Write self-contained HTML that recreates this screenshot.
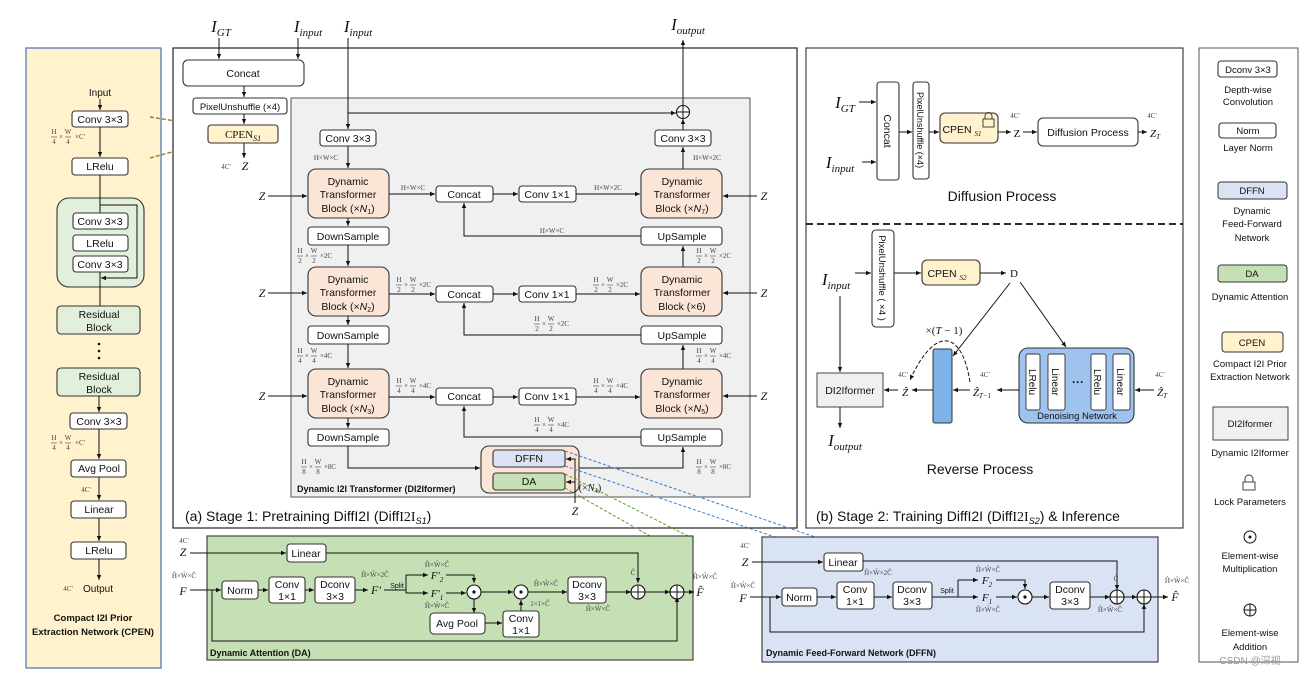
<!DOCTYPE html>
<html><head><meta charset="utf-8">
<style>
html,body{margin:0;padding:0;background:#fff}
svg{display:block}
text{font-family:"Liberation Sans",sans-serif;fill:#111}
.t{font-size:10.5px;text-anchor:middle}
.s{font-size:9.5px;text-anchor:middle}
.m{font-family:"Liberation Serif",serif;font-style:italic;text-anchor:middle}
.d{font-family:"Liberation Serif",serif;font-size:7px;fill:#444;text-anchor:middle}
.b{fill:#fff;stroke:#333;stroke-width:1.1}
.l{stroke:#111;stroke-width:1;fill:none}
.fr text{font-family:"Liberation Serif",serif;font-size:7px;fill:#444;text-anchor:middle}
.fr line{stroke:#444;stroke-width:.6}
</style></head><body>
<svg width="1305" height="676" viewBox="0 0 1305 676" xmlns="http://www.w3.org/2000/svg">
<defs>
<marker id="a" markerWidth="6" markerHeight="6" refX="5" refY="3" orient="auto" markerUnits="userSpaceOnUse"><path d="M0,0.8 L5,3 L0,5.2z" fill="#111"/></marker>
</defs>

<!-- ================= CPEN panel ================= -->
<rect x="26" y="48" width="135" height="620" fill="#fff2cc" stroke="#4a6fb5" stroke-width="1.2"/>
<text class="t" x="100" y="96" style="font-size:10px">Input</text>
<path class="l" d="M100,99V110" marker-end="url(#a)"/>
<rect class="b" x="72" y="111" width="56" height="16" rx="3"/><text class="t" x="100" y="123">Conv 3×3</text>
<g class="fr" transform="translate(52,137)"><text x="2" y="-3">H</text><line x1="-1" x2="5" y1="0" y2="0"/><text x="2" y="7">4</text><text x="9" y="2">×</text><text x="16" y="-3">W</text><line x1="13" x2="19"/><text x="16" y="7">4</text><text x="28" y="2">×C'</text></g>
<path class="l" d="M100,127V157" marker-end="url(#a)"/>
<rect class="b" x="72" y="158" width="56" height="17" rx="3"/><text class="t" x="100" y="170">LRelu</text>
<rect x="57" y="198" width="87" height="89" rx="12" fill="#e2efda" stroke="#333" stroke-width="1.1"/>
<path class="l" d="M100,175V213"/>
<path class="l" d="M100,205H137V278H101" marker-end="url(#a)"/>
<rect class="b" x="73" y="213" width="55" height="16" rx="3"/><text class="t" x="100" y="225">Conv 3×3</text>
<rect class="b" x="73" y="235" width="55" height="16" rx="3"/><text class="t" x="100" y="247">LRelu</text>
<rect class="b" x="73" y="256" width="55" height="16" rx="3"/><text class="t" x="100" y="268">Conv 3×3</text>
<path class="l" d="M100,272V306"/>
<rect x="57" y="306" width="83" height="28" rx="4" fill="#e2efda" stroke="#333" stroke-width="1.1"/>
<text class="t" x="99" y="318">Residual</text><text class="t" x="99" y="331">Block</text>
<circle cx="99" cy="344" r="1.3" fill="#111"/><circle cx="99" cy="351" r="1.3" fill="#111"/><circle cx="99" cy="358" r="1.3" fill="#111"/>
<rect x="57" y="368" width="83" height="28" rx="4" fill="#e2efda" stroke="#333" stroke-width="1.1"/>
<text class="t" x="99" y="380">Residual</text><text class="t" x="99" y="393">Block</text>
<path class="l" d="M99,396V412" marker-end="url(#a)"/>
<rect class="b" x="70" y="413" width="57" height="16" rx="3"/><text class="t" x="99" y="425">Conv 3×3</text>
<g class="fr" transform="translate(52,443)"><text x="2" y="-3">H</text><line x1="-1" x2="5" y1="0" y2="0"/><text x="2" y="7">4</text><text x="9" y="2">×</text><text x="16" y="-3">W</text><line x1="13" x2="19"/><text x="16" y="7">4</text><text x="28" y="2">×C'</text></g>
<path class="l" d="M99,429V459" marker-end="url(#a)"/>
<rect class="b" x="71" y="460" width="55" height="17" rx="3"/><text class="t" x="99" y="472">Avg Pool</text>
<text class="d" x="86" y="492">4C'</text>
<path class="l" d="M99,477V500" marker-end="url(#a)"/>
<rect class="b" x="71" y="501" width="55" height="17" rx="3"/><text class="t" x="99" y="513">Linear</text>
<path class="l" d="M99,518V541" marker-end="url(#a)"/>
<rect class="b" x="71" y="542" width="55" height="17" rx="3"/><text class="t" x="99" y="554">LRelu</text>
<path class="l" d="M99,559V580" marker-end="url(#a)"/>
<text class="d" x="68" y="591">4C'</text><text class="t" x="98" y="592" style="font-size:10px">Output</text>
<text x="93" y="621" style="font-size:9.5px;font-weight:bold;text-anchor:middle">Compact I2I Prior</text>
<text x="93" y="635" style="font-size:9.5px;font-weight:bold;text-anchor:middle">Extraction Network (CPEN)</text>

<!-- dashed connectors CPEN -->
<path d="M150,117L208,126" stroke="#9a7a20" stroke-width="1.4" stroke-dasharray="4,2" fill="none"/>
<path d="M150,158L208,142" stroke="#9a7a20" stroke-width="1.4" stroke-dasharray="4,2" fill="none"/>

<!-- ================= Stage 1 ================= -->
<rect x="173" y="48" width="624" height="480" fill="#fff" stroke="#222" stroke-width="1.2"/>
<text class="m" x="221" y="32" style="font-size:17px">I<tspan font-size="11" dy="4">GT</tspan></text>
<text class="m" x="308" y="32" style="font-size:17px">I<tspan font-size="11" dy="4">input</tspan></text>
<text class="m" x="358" y="32" style="font-size:17px">I<tspan font-size="11" dy="4">input</tspan></text>
<text class="m" x="688" y="30" style="font-size:17px">I<tspan font-size="11" dy="4">output</tspan></text>
<path class="l" d="M219,38V59" marker-end="url(#a)"/>
<path class="l" d="M298,38V59" marker-end="url(#a)"/>
<rect class="b" x="183" y="60" width="121" height="26" rx="5"/><text class="t" x="243" y="77">Concat</text>
<path class="l" d="M244,86V97" marker-end="url(#a)"/>
<rect class="b" x="193" y="98" width="94" height="16" rx="3"/><text class="t" x="240" y="110" style="font-size:9.5px">PixelUnshuffle (×4)</text>
<path class="l" d="M244,114V124" marker-end="url(#a)"/>
<rect x="208" y="125" width="70" height="18" rx="3" fill="#fff2cc" stroke="#333" stroke-width="1.1"/>
<text x="243" y="138" style="font-family:'Liberation Serif',serif;font-size:11px;text-anchor:middle">CPEN<tspan font-size="8" dy="3" font-style="italic">S1</tspan></text>
<path class="l" d="M244,143V158" marker-end="url(#a)"/>
<text class="d" x="226" y="169">4C'</text><text class="m" x="245" y="170" style="font-size:12px">Z</text>

<rect x="291" y="98" width="459" height="399" fill="#f0f0f0" stroke="#555" stroke-width="1"/>
<path class="l" d="M348,38V129" marker-end="url(#a)"/>
<path class="l" d="M348,113H676" marker-end="url(#a)"/>
<circle cx="683" cy="112" r="6.5" fill="#fff" stroke="#111" stroke-width="1.1"/><path class="l" d="M676.5,112H689.5M683,105.5V118.5"/>
<path class="l" d="M683,105.5V40" marker-end="url(#a)"/>
<rect class="b" x="320" y="130" width="56" height="16" rx="3"/><text class="t" x="348" y="142">Conv 3×3</text>
<rect class="b" x="655" y="130" width="56" height="16" rx="3"/><text class="t" x="683" y="142">Conv 3×3</text>
<path class="l" d="M683,130V119" marker-end="url(#a)"/>
<text class="d" x="326" y="160">H×W×C</text><text class="d" x="707" y="160">H×W×2C</text>
<path class="l" d="M348,146V168" marker-end="url(#a)"/>
<path class="l" d="M683,169V147" marker-end="url(#a)"/>

<!-- level 1 -->
<g>
<rect x="308" y="169" width="81" height="49" rx="8" fill="#fbe5d6" stroke="#333" stroke-width="1.1"/>
<text class="t" x="348" y="185">Dynamic</text><text class="t" x="348" y="198">Transformer</text><text class="t" x="348" y="212">Block (×<tspan font-style="italic">N</tspan><tspan font-size="7" dy="2">1</tspan><tspan dy="-2">)</tspan></text>
<rect x="641" y="169" width="81" height="49" rx="8" fill="#fbe5d6" stroke="#333" stroke-width="1.1"/>
<text class="t" x="682" y="185">Dynamic</text><text class="t" x="682" y="198">Transformer</text><text class="t" x="682" y="212">Block (×<tspan font-style="italic">N</tspan><tspan font-size="7" dy="2">7</tspan><tspan dy="-2">)</tspan></text>
<text class="m" x="262" y="200" style="font-size:12px">Z</text><path class="l" d="M268,196H307" marker-end="url(#a)"/>
<text class="m" x="764" y="200" style="font-size:12px">Z</text><path class="l" d="M757,196H723" marker-end="url(#a)"/>
<text class="d" x="413" y="190">H×W×C</text>
<path class="l" d="M389,194H435" marker-end="url(#a)"/>
<rect class="b" x="436" y="186" width="57" height="16" rx="3"/><text class="t" x="464" y="198">Concat</text>
<path class="l" d="M493,194H518" marker-end="url(#a)"/>
<rect class="b" x="519" y="186" width="57" height="16" rx="3"/><text class="t" x="547" y="198">Conv 1×1</text>
<text class="d" x="608" y="190">H×W×2C</text>
<path class="l" d="M576,194H640" marker-end="url(#a)"/>
<path class="l" d="M348,218V226" marker-end="url(#a)"/>
<rect class="b" x="308" y="227" width="81" height="18" rx="3"/><text class="t" x="348" y="240">DownSample</text>
<rect class="b" x="641" y="227" width="81" height="18" rx="3"/><text class="t" x="682" y="240">UpSample</text>
<path class="l" d="M641,236H464V203" marker-end="url(#a)"/>
<text class="d" x="552" y="233">H×W×C</text>
</g>
<!-- level 2 -->
<g>
<path class="l" d="M348,245V266" marker-end="url(#a)"/>
<path class="l" d="M683,267V246" marker-end="url(#a)"/>
<g class="fr" transform="translate(298,256)"><text x="2" y="-3">H</text><line x1="-1" x2="5" y1="0" y2="0"/><text x="2" y="7">2</text><text x="9" y="2">×</text><text x="16" y="-3">W</text><line x1="13" x2="19"/><text x="16" y="7">2</text><text x="28" y="2">×2C</text></g>
<g class="fr" transform="translate(697,256)"><text x="2" y="-3">H</text><line x1="-1" x2="5" y1="0" y2="0"/><text x="2" y="7">2</text><text x="9" y="2">×</text><text x="16" y="-3">W</text><line x1="13" x2="19"/><text x="16" y="7">2</text><text x="28" y="2">×2C</text></g>
<rect x="308" y="267" width="81" height="49" rx="8" fill="#fbe5d6" stroke="#333" stroke-width="1.1"/>
<text class="t" x="348" y="283">Dynamic</text><text class="t" x="348" y="296">Transformer</text><text class="t" x="348" y="310">Block (×<tspan font-style="italic">N</tspan><tspan font-size="7" dy="2">2</tspan><tspan dy="-2">)</tspan></text>
<rect x="641" y="267" width="81" height="49" rx="8" fill="#fbe5d6" stroke="#333" stroke-width="1.1"/>
<text class="t" x="682" y="283">Dynamic</text><text class="t" x="682" y="296">Transformer</text><text class="t" x="682" y="310">Block (×6)</text>
<text class="m" x="262" y="297" style="font-size:12px">Z</text><path class="l" d="M268,293H307" marker-end="url(#a)"/>
<text class="m" x="764" y="297" style="font-size:12px">Z</text><path class="l" d="M757,293H723" marker-end="url(#a)"/>
<g class="fr" transform="translate(397,285)"><text x="2" y="-3">H</text><line x1="-1" x2="5" y1="0" y2="0"/><text x="2" y="7">2</text><text x="9" y="2">×</text><text x="16" y="-3">W</text><line x1="13" x2="19"/><text x="16" y="7">2</text><text x="28" y="2">×2C</text></g>
<path class="l" d="M389,294H435" marker-end="url(#a)"/>
<rect class="b" x="436" y="286" width="57" height="16" rx="3"/><text class="t" x="464" y="298">Concat</text>
<path class="l" d="M493,294H518" marker-end="url(#a)"/>
<rect class="b" x="519" y="286" width="57" height="16" rx="3"/><text class="t" x="547" y="298">Conv 1×1</text>
<g class="fr" transform="translate(594,285)"><text x="2" y="-3">H</text><line x1="-1" x2="5" y1="0" y2="0"/><text x="2" y="7">2</text><text x="9" y="2">×</text><text x="16" y="-3">W</text><line x1="13" x2="19"/><text x="16" y="7">2</text><text x="28" y="2">×2C</text></g>
<path class="l" d="M576,294H640" marker-end="url(#a)"/>
<path class="l" d="M348,316V325" marker-end="url(#a)"/>
<rect class="b" x="308" y="326" width="81" height="18" rx="3"/><text class="t" x="348" y="339">DownSample</text>
<rect class="b" x="641" y="326" width="81" height="18" rx="3"/><text class="t" x="682" y="339">UpSample</text>
<path class="l" d="M641,335H464V303" marker-end="url(#a)"/>
<g class="fr" transform="translate(535,324)"><text x="2" y="-3">H</text><line x1="-1" x2="5" y1="0" y2="0"/><text x="2" y="7">2</text><text x="9" y="2">×</text><text x="16" y="-3">W</text><line x1="13" x2="19"/><text x="16" y="7">2</text><text x="28" y="2">×2C</text></g>
</g>
<!-- level 3 -->
<g>
<path class="l" d="M348,344V368" marker-end="url(#a)"/>
<path class="l" d="M683,369V345" marker-end="url(#a)"/>
<g class="fr" transform="translate(298,356)"><text x="2" y="-3">H</text><line x1="-1" x2="5" y1="0" y2="0"/><text x="2" y="7">4</text><text x="9" y="2">×</text><text x="16" y="-3">W</text><line x1="13" x2="19"/><text x="16" y="7">4</text><text x="28" y="2">×4C</text></g>
<g class="fr" transform="translate(697,356)"><text x="2" y="-3">H</text><line x1="-1" x2="5" y1="0" y2="0"/><text x="2" y="7">4</text><text x="9" y="2">×</text><text x="16" y="-3">W</text><line x1="13" x2="19"/><text x="16" y="7">4</text><text x="28" y="2">×4C</text></g>
<rect x="308" y="369" width="81" height="49" rx="8" fill="#fbe5d6" stroke="#333" stroke-width="1.1"/>
<text class="t" x="348" y="385">Dynamic</text><text class="t" x="348" y="398">Transformer</text><text class="t" x="348" y="412">Block (×<tspan font-style="italic">N</tspan><tspan font-size="7" dy="2">3</tspan><tspan dy="-2">)</tspan></text>
<rect x="641" y="369" width="81" height="49" rx="8" fill="#fbe5d6" stroke="#333" stroke-width="1.1"/>
<text class="t" x="682" y="385">Dynamic</text><text class="t" x="682" y="398">Transformer</text><text class="t" x="682" y="412">Block (×<tspan font-style="italic">N</tspan><tspan font-size="7" dy="2">5</tspan><tspan dy="-2">)</tspan></text>
<text class="m" x="262" y="400" style="font-size:12px">Z</text><path class="l" d="M268,396H307" marker-end="url(#a)"/>
<text class="m" x="764" y="400" style="font-size:12px">Z</text><path class="l" d="M757,396H723" marker-end="url(#a)"/>
<g class="fr" transform="translate(397,386)"><text x="2" y="-3">H</text><line x1="-1" x2="5" y1="0" y2="0"/><text x="2" y="7">4</text><text x="9" y="2">×</text><text x="16" y="-3">W</text><line x1="13" x2="19"/><text x="16" y="7">4</text><text x="28" y="2">×4C</text></g>
<path class="l" d="M389,397H435" marker-end="url(#a)"/>
<rect class="b" x="436" y="388" width="57" height="17" rx="3"/><text class="t" x="464" y="400">Concat</text>
<path class="l" d="M493,397H518" marker-end="url(#a)"/>
<rect class="b" x="519" y="388" width="57" height="17" rx="3"/><text class="t" x="547" y="400">Conv 1×1</text>
<g class="fr" transform="translate(594,386)"><text x="2" y="-3">H</text><line x1="-1" x2="5" y1="0" y2="0"/><text x="2" y="7">4</text><text x="9" y="2">×</text><text x="16" y="-3">W</text><line x1="13" x2="19"/><text x="16" y="7">4</text><text x="28" y="2">×4C</text></g>
<path class="l" d="M576,397H640" marker-end="url(#a)"/>
<path class="l" d="M348,418V428" marker-end="url(#a)"/>
<rect class="b" x="308" y="429" width="81" height="17" rx="3"/><text class="t" x="348" y="441">DownSample</text>
<rect class="b" x="641" y="429" width="81" height="17" rx="3"/><text class="t" x="682" y="441">UpSample</text>
<path class="l" d="M641,437H464V406" marker-end="url(#a)"/>
<g class="fr" transform="translate(535,425)"><text x="2" y="-3">H</text><line x1="-1" x2="5" y1="0" y2="0"/><text x="2" y="7">4</text><text x="9" y="2">×</text><text x="16" y="-3">W</text><line x1="13" x2="19"/><text x="16" y="7">4</text><text x="28" y="2">×4C</text></g>
</g>
<!-- bottom -->
<g class="fr" transform="translate(302,467)"><text x="2" y="-3">H</text><line x1="-1" x2="5" y1="0" y2="0"/><text x="2" y="7">8</text><text x="9" y="2">×</text><text x="16" y="-3">W</text><line x1="13" x2="19"/><text x="16" y="7">8</text><text x="28" y="2">×8C</text></g>
<g class="fr" transform="translate(697,467)"><text x="2" y="-3">H</text><line x1="-1" x2="5" y1="0" y2="0"/><text x="2" y="7">8</text><text x="9" y="2">×</text><text x="16" y="-3">W</text><line x1="13" x2="19"/><text x="16" y="7">8</text><text x="28" y="2">×8C</text></g>
<path class="l" d="M348,446V468H480" marker-end="url(#a)"/>
<path class="l" d="M579,468H683V447" marker-end="url(#a)"/>
<rect x="481" y="446" width="98" height="47" rx="8" fill="#fbe5d6" stroke="#333" stroke-width="1.1"/>
<rect x="493" y="450" width="72" height="17" rx="3" fill="#dae3f3" stroke="#333" stroke-width="1.1"/><text class="t" x="529" y="462">DFFN</text>
<rect x="493" y="473" width="72" height="17" rx="3" fill="#c5e0b4" stroke="#333" stroke-width="1.1"/><text class="t" x="529" y="485">DA</text>
<path class="l" d="M575,503V459H566" marker-end="url(#a)"/>
<path class="l" d="M575,482H566" marker-end="url(#a)"/>
<text x="590" y="491" style="font-family:'Liberation Serif',serif;font-size:10px;text-anchor:middle">(×<tspan font-style="italic">N</tspan><tspan font-size="7" dy="2">4</tspan><tspan dy="-2">)</tspan></text>
<text class="m" x="575" y="515" style="font-size:12px">Z</text>
<text x="297" y="492" style="font-size:9px;font-weight:bold">Dynamic I2I Transformer (DI2Iformer)</text>
<text x="185" y="521" style="font-size:14px">(a) Stage 1: Pretraining DiffI2I (Diff<tspan font-family="Liberation Serif">I2I</tspan><tspan font-size="9" dy="3" font-style="italic">S1</tspan><tspan dy="-3">)</tspan></text>

<!-- dashed connectors to DA / DFFN -->
<path d="M565,451L818,538M565,466L778,538" stroke="#3a7bd5" stroke-width="1" stroke-dasharray="3,2" fill="none"/>
<path d="M565,474L688,536M565,488L650,536" stroke="#5a9a30" stroke-width="1" stroke-dasharray="3,2" fill="none"/>

<!-- ================= DA panel ================= -->
<rect x="207" y="536" width="486" height="124" fill="#c5e0b4" stroke="#333" stroke-width="1.1"/>
<text class="d" x="184" y="543">4C'</text>
<text class="m" x="183" y="556" style="font-size:12px">Z</text>
<path class="l" d="M190,553H286" marker-end="url(#a)"/>
<rect class="b" x="287" y="544" width="39" height="18" rx="3"/><text class="t" x="306" y="557">Linear</text>
<path class="l" d="M326,553H638V583" marker-end="url(#a)"/>
<text class="d" x="184" y="578">Ĥ×Ŵ×Ĉ</text>
<text class="m" x="183" y="595" style="font-size:12px">F</text>
<path class="l" d="M190,590H221" marker-end="url(#a)"/>
<path class="l" d="M212,590V641H677V597" marker-end="url(#a)"/>
<rect class="b" x="222" y="581" width="36" height="18" rx="3"/><text class="t" x="240" y="594">Norm</text>
<path class="l" d="M258,590H268" marker-end="url(#a)"/>
<rect class="b" x="269" y="577" width="36" height="26" rx="3"/><text class="t" x="287" y="588">Conv</text><text class="t" x="287" y="600">1×1</text>
<path class="l" d="M305,590H314" marker-end="url(#a)"/>
<rect class="b" x="315" y="577" width="40" height="26" rx="3"/><text class="t" x="335" y="588">Dconv</text><text class="t" x="335" y="600">3×3</text>
<path class="l" d="M355,590H368" marker-end="url(#a)"/>
<text class="m" x="376" y="594" style="font-size:12px">F'</text>
<text class="d" x="375" y="577">Ĥ×Ŵ×2Ĉ</text>
<text x="397" y="588" style="font-size:7px;text-anchor:middle">Split</text>
<path class="l" d="M384,590H406M406,590V575M406,590V593" />
<path class="l" d="M406,575H428" marker-end="url(#a)"/><path class="l" d="M406,593H428" marker-end="url(#a)"/>
<text class="m" x="437" y="579" style="font-size:11px">F'<tspan font-size="7" dy="3">2</tspan></text>
<text class="m" x="437" y="597" style="font-size:11px">F'<tspan font-size="7" dy="3">1</tspan></text>
<text class="d" x="437" y="567">Ĥ×Ŵ×Ĉ</text><text class="d" x="437" y="608">Ĥ×Ŵ×Ĉ</text>
<path class="l" d="M446,575H474V583" marker-end="url(#a)"/>
<path class="l" d="M446,593H466" marker-end="url(#a)"/>
<circle cx="474" cy="592" r="7" fill="#fff" stroke="#111" stroke-width="1.1"/><circle cx="474" cy="592" r="1.6" fill="#111"/>
<path class="l" d="M474,599V613" marker-end="url(#a)"/>
<path class="l" d="M481,592H513" marker-end="url(#a)"/>
<circle cx="521" cy="592" r="7" fill="#fff" stroke="#111" stroke-width="1.1"/><circle cx="521" cy="592" r="1.6" fill="#111"/>
<rect class="b" x="430" y="613" width="55" height="21" rx="4"/><text class="t" x="457" y="627">Avg Pool</text>
<path class="l" d="M485,623H502" marker-end="url(#a)"/>
<rect class="b" x="503" y="611" width="36" height="26" rx="3"/><text class="t" x="521" y="622">Conv</text><text class="t" x="521" y="634">1×1</text>
<path class="l" d="M521,611V600" marker-end="url(#a)"/>
<text class="d" x="540" y="606">1×1×Ĉ</text>
<path class="l" d="M528,592H567" marker-end="url(#a)"/>
<text class="d" x="546" y="586">Ĥ×Ŵ×Ĉ</text>
<rect class="b" x="568" y="577" width="38" height="26" rx="3"/><text class="t" x="587" y="588">Dconv</text><text class="t" x="587" y="600">3×3</text>
<text class="d" x="598" y="611">Ĥ×Ŵ×Ĉ</text>
<path class="l" d="M606,592H631" marker-end="url(#a)"/>
<text class="d" x="633" y="575">Ĉ</text>
<circle cx="638" cy="592" r="7" fill="#fff" stroke="#111" stroke-width="1.1"/><path class="l" d="M631,592H645M638,585V599"/>
<path class="l" d="M645,592H670" marker-end="url(#a)"/>
<circle cx="677" cy="592" r="7" fill="#fff" stroke="#111" stroke-width="1.1"/><path class="l" d="M670,592H684M677,585V599"/>
<path class="l" d="M684,592H694" marker-end="url(#a)"/>
<text class="m" x="700" y="596" style="font-size:12px">F̂</text>
<text class="d" x="705" y="579">Ĥ×Ŵ×Ĉ</text>
<text x="210" y="656" style="font-size:9px;font-weight:bold">Dynamic Attention (DA)</text>

<!-- ================= DFFN panel ================= -->
<rect x="762" y="537" width="396" height="125" fill="#dae3f3" stroke="#333" stroke-width="1.1"/>
<text class="d" x="745" y="548">4C'</text>
<text class="m" x="745" y="566" style="font-size:12px">Z</text>
<path class="l" d="M752,562H823" marker-end="url(#a)"/>
<rect class="b" x="824" y="553" width="39" height="18" rx="3"/><text class="t" x="843" y="566">Linear</text>
<path class="l" d="M863,561H1117V590" marker-end="url(#a)"/>
<text class="d" x="743" y="588">Ĥ×Ŵ×Ĉ</text>
<text class="m" x="743" y="602" style="font-size:12px">F</text>
<path class="l" d="M750,597H781" marker-end="url(#a)"/>
<path class="l" d="M770,597V632H1144V604" marker-end="url(#a)"/>
<rect class="b" x="782" y="588" width="35" height="18" rx="3"/><text class="t" x="799" y="601">Norm</text>
<path class="l" d="M817,597H836" marker-end="url(#a)"/>
<rect class="b" x="837" y="582" width="37" height="27" rx="3"/><text class="t" x="855" y="593">Conv</text><text class="t" x="855" y="605">1×1</text>
<text class="d" x="878" y="575">Ĥ×Ŵ×2Ĉ</text>
<path class="l" d="M874,597H892" marker-end="url(#a)"/>
<rect class="b" x="893" y="582" width="39" height="27" rx="3"/><text class="t" x="912" y="593">Dconv</text><text class="t" x="912" y="605">3×3</text>
<text x="947" y="593" style="font-size:7px;text-anchor:middle">Split</text>
<path class="l" d="M932,597H958V580"/>
<path class="l" d="M958,580H978" marker-end="url(#a)"/><path class="l" d="M958,597H978" marker-end="url(#a)"/>
<text class="m" x="987" y="584" style="font-size:11px">F<tspan font-size="7" dy="3">2</tspan></text>
<text class="m" x="987" y="601" style="font-size:11px">F<tspan font-size="7" dy="3">1</tspan></text>
<text class="d" x="988" y="572">Ĥ×Ŵ×Ĉ</text><text class="d" x="988" y="612">Ĥ×Ŵ×Ĉ</text>
<path class="l" d="M996,580H1025V589" marker-end="url(#a)"/>
<path class="l" d="M996,597H1017" marker-end="url(#a)"/>
<circle cx="1025" cy="597" r="7" fill="#fff" stroke="#111" stroke-width="1.1"/><circle cx="1025" cy="597" r="1.6" fill="#111"/>
<path class="l" d="M1032,597H1049" marker-end="url(#a)"/>
<rect class="b" x="1050" y="582" width="40" height="27" rx="3"/><text class="t" x="1070" y="593">Dconv</text><text class="t" x="1070" y="605">3×3</text>
<path class="l" d="M1090,597H1110" marker-end="url(#a)"/>
<text class="d" x="1116" y="581">Ĉ</text><text class="d" x="1110" y="612">Ĥ×Ŵ×Ĉ</text>
<circle cx="1117" cy="597" r="7" fill="#fff" stroke="#111" stroke-width="1.1"/><path class="l" d="M1110,597H1124M1117,590V604"/>
<path class="l" d="M1124,597H1137" marker-end="url(#a)"/>
<circle cx="1144" cy="597" r="7" fill="#fff" stroke="#111" stroke-width="1.1"/><path class="l" d="M1137,597H1151M1144,590V604"/>
<path class="l" d="M1151,597H1168" marker-end="url(#a)"/>
<text class="m" x="1175" y="601" style="font-size:12px">F̂</text>
<text class="d" x="1177" y="583">Ĥ×Ŵ×Ĉ</text>
<text x="766" y="656" style="font-size:9px;font-weight:bold">Dynamic Feed-Forward Network (DFFN)</text>

<!-- ================= Stage 2 ================= -->
<rect x="806" y="48" width="377" height="480" fill="#fff" stroke="#444" stroke-width="1.2"/>
<text class="m" x="845" y="108" style="font-size:17px">I<tspan font-size="11" dy="4">GT</tspan></text>
<path class="l" d="M859,102H876" marker-end="url(#a)"/>
<text class="m" x="840" y="168" style="font-size:17px">I<tspan font-size="11" dy="4">input</tspan></text>
<path class="l" d="M862,162H876" marker-end="url(#a)"/>
<rect class="b" x="877" y="82" width="22" height="98" rx="3"/>
<text class="t" transform="translate(884,131) rotate(90)">Concat</text>
<path class="l" d="M899,132H912" marker-end="url(#a)"/>
<rect class="b" x="913" y="82" width="16" height="97" rx="3"/>
<text transform="translate(917,130) rotate(90)" style="font-size:9px;text-anchor:middle">PixelUnshuffle (×4)</text>
<path class="l" d="M929,132H939" marker-end="url(#a)"/>
<rect x="940" y="113" width="58" height="30" rx="5" fill="#fff2cc" stroke="#333" stroke-width="1.1"/>
<text class="t" x="962" y="133">CPEN <tspan font-family="Liberation Serif" font-style="italic" font-size="7" dy="3">S1</tspan></text>
<rect x="983" y="119" width="11" height="8" fill="none" stroke="#333" stroke-width="0.9"/><path d="M985,119V116a3.5,3.5 0 0 1 7,0V119" fill="none" stroke="#333" stroke-width="0.9"/>
<path class="l" d="M998,132H1011" marker-end="url(#a)"/>
<text class="d" x="1015" y="118">4C'</text><text class="m" x="1017" y="137" style="font-size:11px;font-style:normal">Z</text>
<path class="l" d="M1023,132H1037" marker-end="url(#a)"/>
<rect class="b" x="1038" y="118" width="100" height="28" rx="5"/><text class="t" x="1088" y="136">Diffusion Process</text>
<path class="l" d="M1138,132H1147" marker-end="url(#a)"/>
<text class="d" x="1152" y="118">4C'</text><text class="m" x="1155" y="137" style="font-size:11px">Z<tspan font-size="7" dy="2">T</tspan></text>
<text x="1002" y="201" style="font-size:14px;text-anchor:middle">Diffusion Process</text>
<path d="M806,224H1183" stroke="#111" stroke-width="1.8" stroke-dasharray="7,4"/>

<text class="m" x="836" y="285" style="font-size:17px">I<tspan font-size="11" dy="4">input</tspan></text>
<path class="l" d="M855,273H871" marker-end="url(#a)"/>
<rect class="b" x="872" y="230" width="22" height="97" rx="4"/>
<text transform="translate(879,278) rotate(90)" style="font-size:9.5px;text-anchor:middle">PixelUnshuffle ( ×4 )</text>
<path class="l" d="M894,273H921" marker-end="url(#a)"/>
<rect x="922" y="260" width="58" height="25" rx="5" fill="#fff2cc" stroke="#333" stroke-width="1.1"/>
<text class="t" x="947" y="277">CPEN <tspan font-family="Liberation Serif" font-style="italic" font-size="7" dy="3">S2</tspan></text>
<path class="l" d="M980,273H1006" marker-end="url(#a)"/>
<text x="1014" y="277" style="font-family:'Liberation Serif',serif;font-size:11px;text-anchor:middle">D</text>
<path class="l" d="M1020,282L1066,347" marker-end="url(#a)"/>
<path class="l" d="M1010,283L953,356" marker-end="url(#a)"/>
<text x="944" y="334" style="font-family:'Liberation Serif',serif;font-size:11px;text-anchor:middle">×(<tspan font-style="italic">T</tspan> − 1)</text>
<path d="M970,382C962,330 935,325 910,380" fill="none" stroke="#111" stroke-width="1" stroke-dasharray="4,2" marker-end="url(#a)"/>
<rect x="933" y="349" width="19" height="74" rx="2" fill="#7eb3ea" stroke="#333" stroke-width="1"/>
<rect x="1019" y="348" width="115" height="75" rx="9" fill="#9dc3ee" stroke="#333" stroke-width="1.1"/>
<rect x="1026" y="354" width="14" height="56" rx="2" fill="#fff" stroke="#333" stroke-width="0.9"/>
<rect x="1048" y="354" width="17" height="56" rx="2" fill="#fff" stroke="#333" stroke-width="0.9"/>
<rect x="1091" y="354" width="15" height="56" rx="2" fill="#fff" stroke="#333" stroke-width="0.9"/>
<rect x="1113" y="354" width="17" height="56" rx="2" fill="#fff" stroke="#333" stroke-width="0.9"/>
<text transform="translate(1029,382) rotate(90)" style="font-size:10px;text-anchor:middle">LRelu</text>
<text transform="translate(1052,382) rotate(90)" style="font-size:10px;text-anchor:middle">Linear</text>
<text transform="translate(1094,382) rotate(90)" style="font-size:10px;text-anchor:middle">LRelu</text>
<text transform="translate(1117,382) rotate(90)" style="font-size:10px;text-anchor:middle">Linear</text>
<text x="1078" y="386" style="font-size:12px;font-weight:bold;text-anchor:middle">···</text>
<text x="1077" y="419" style="font-size:9.5px;text-anchor:middle">Denoising Network</text>
<text class="d" x="1160" y="377">4C'</text>
<text class="m" x="1162" y="396" style="font-size:11px">Ẑ<tspan font-size="7" dy="2">T</tspan></text>
<path class="l" d="M1154,390H1135" marker-end="url(#a)"/>
<path class="l" d="M1019,390H997" marker-end="url(#a)"/>
<text class="d" x="985" y="377">4C'</text>
<text class="m" x="982" y="396" style="font-size:11px">Ẑ<tspan font-size="7" dy="2">T−1</tspan></text>
<path class="l" d="M970,390H953" marker-end="url(#a)"/>
<path class="l" d="M933,390H912" marker-end="url(#a)"/>
<text class="d" x="903" y="377">4C'</text>
<text class="m" x="905" y="396" style="font-size:11px">Ẑ</text>
<path class="l" d="M898,390H884" marker-end="url(#a)"/>
<path class="l" d="M840,296V372" marker-end="url(#a)"/>
<rect x="817" y="373" width="66" height="34" fill="#f0f0f0" stroke="#444" stroke-width="1"/>
<text class="t" x="850" y="394">DI2Iformer</text>
<path class="l" d="M840,407V428" marker-end="url(#a)"/>
<text class="m" x="845" y="446" style="font-size:17px">I<tspan font-size="11" dy="4">output</tspan></text>
<text x="980" y="474" style="font-size:14px;text-anchor:middle">Reverse Process</text>
<text x="816" y="521" style="font-size:14px">(b) Stage 2: Training DiffI2I (Diff<tspan font-family="Liberation Serif">I2I</tspan><tspan font-size="9" dy="3" font-style="italic">S2</tspan><tspan dy="-3">) &amp; Inference</tspan></text>

<!-- ================= Legend ================= -->
<rect x="1199" y="48" width="99" height="614" fill="#fff" stroke="#555" stroke-width="1"/>
<rect class="b" x="1218" y="61" width="59" height="16" rx="3"/><text class="s" x="1248" y="73">Dconv 3×3</text>
<text class="s" x="1248" y="93">Depth-wise</text><text class="s" x="1248" y="105">Convolution</text>
<rect class="b" x="1219" y="123" width="57" height="15" rx="3"/><text class="s" x="1248" y="134">Norm</text>
<text class="s" x="1248" y="151">Layer Norm</text>
<rect x="1218" y="182" width="69" height="17" rx="3" fill="#dae3f3" stroke="#333" stroke-width="1"/><text class="s" x="1252" y="194">DFFN</text>
<text class="s" x="1252" y="214">Dynamic</text><text class="s" x="1252" y="227">Feed-Forward</text><text class="s" x="1252" y="241">Network</text>
<rect x="1218" y="265" width="69" height="17" rx="3" fill="#c5e0b4" stroke="#333" stroke-width="1"/><text class="s" x="1252" y="277">DA</text>
<text class="s" x="1250" y="300">Dynamic Attention</text>
<rect x="1222" y="332" width="61" height="20" rx="3" fill="#fff2cc" stroke="#333" stroke-width="1"/><text class="s" x="1252" y="346">CPEN</text>
<text class="s" x="1250" y="367">Compact I2I Prior</text><text class="s" x="1250" y="380">Extraction Network</text>
<rect x="1213" y="407" width="75" height="33" fill="#f0f0f0" stroke="#444" stroke-width="1"/><text class="s" x="1250" y="427">DI2Iformer</text>
<text class="s" x="1250" y="456">Dynamic I2Iformer</text>
<rect x="1243" y="482" width="12" height="8" fill="none" stroke="#333" stroke-width="0.9"/><path d="M1245,482V479a4,4 0 0 1 8,0V482" fill="none" stroke="#333" stroke-width="0.9"/>
<text class="s" x="1250" y="505">Lock Parameters</text>
<circle cx="1250" cy="537" r="6" fill="#fff" stroke="#111" stroke-width="1"/><circle cx="1250" cy="537" r="1.5" fill="#111"/>
<text class="s" x="1250" y="559">Element-wise</text><text class="s" x="1250" y="572">Multiplication</text>
<circle cx="1250" cy="610" r="6" fill="#fff" stroke="#111" stroke-width="1"/><path class="l" d="M1244,610H1256M1250,604V616"/>
<text class="s" x="1250" y="636">Element-wise</text><text class="s" x="1250" y="650">Addition</text>
<text x="1250" y="664" style="font-family:'Liberation Sans','Noto Sans CJK SC',sans-serif;font-size:10px;fill:#999;text-anchor:middle">CSDN @深视</text>
</svg>
</body></html>
